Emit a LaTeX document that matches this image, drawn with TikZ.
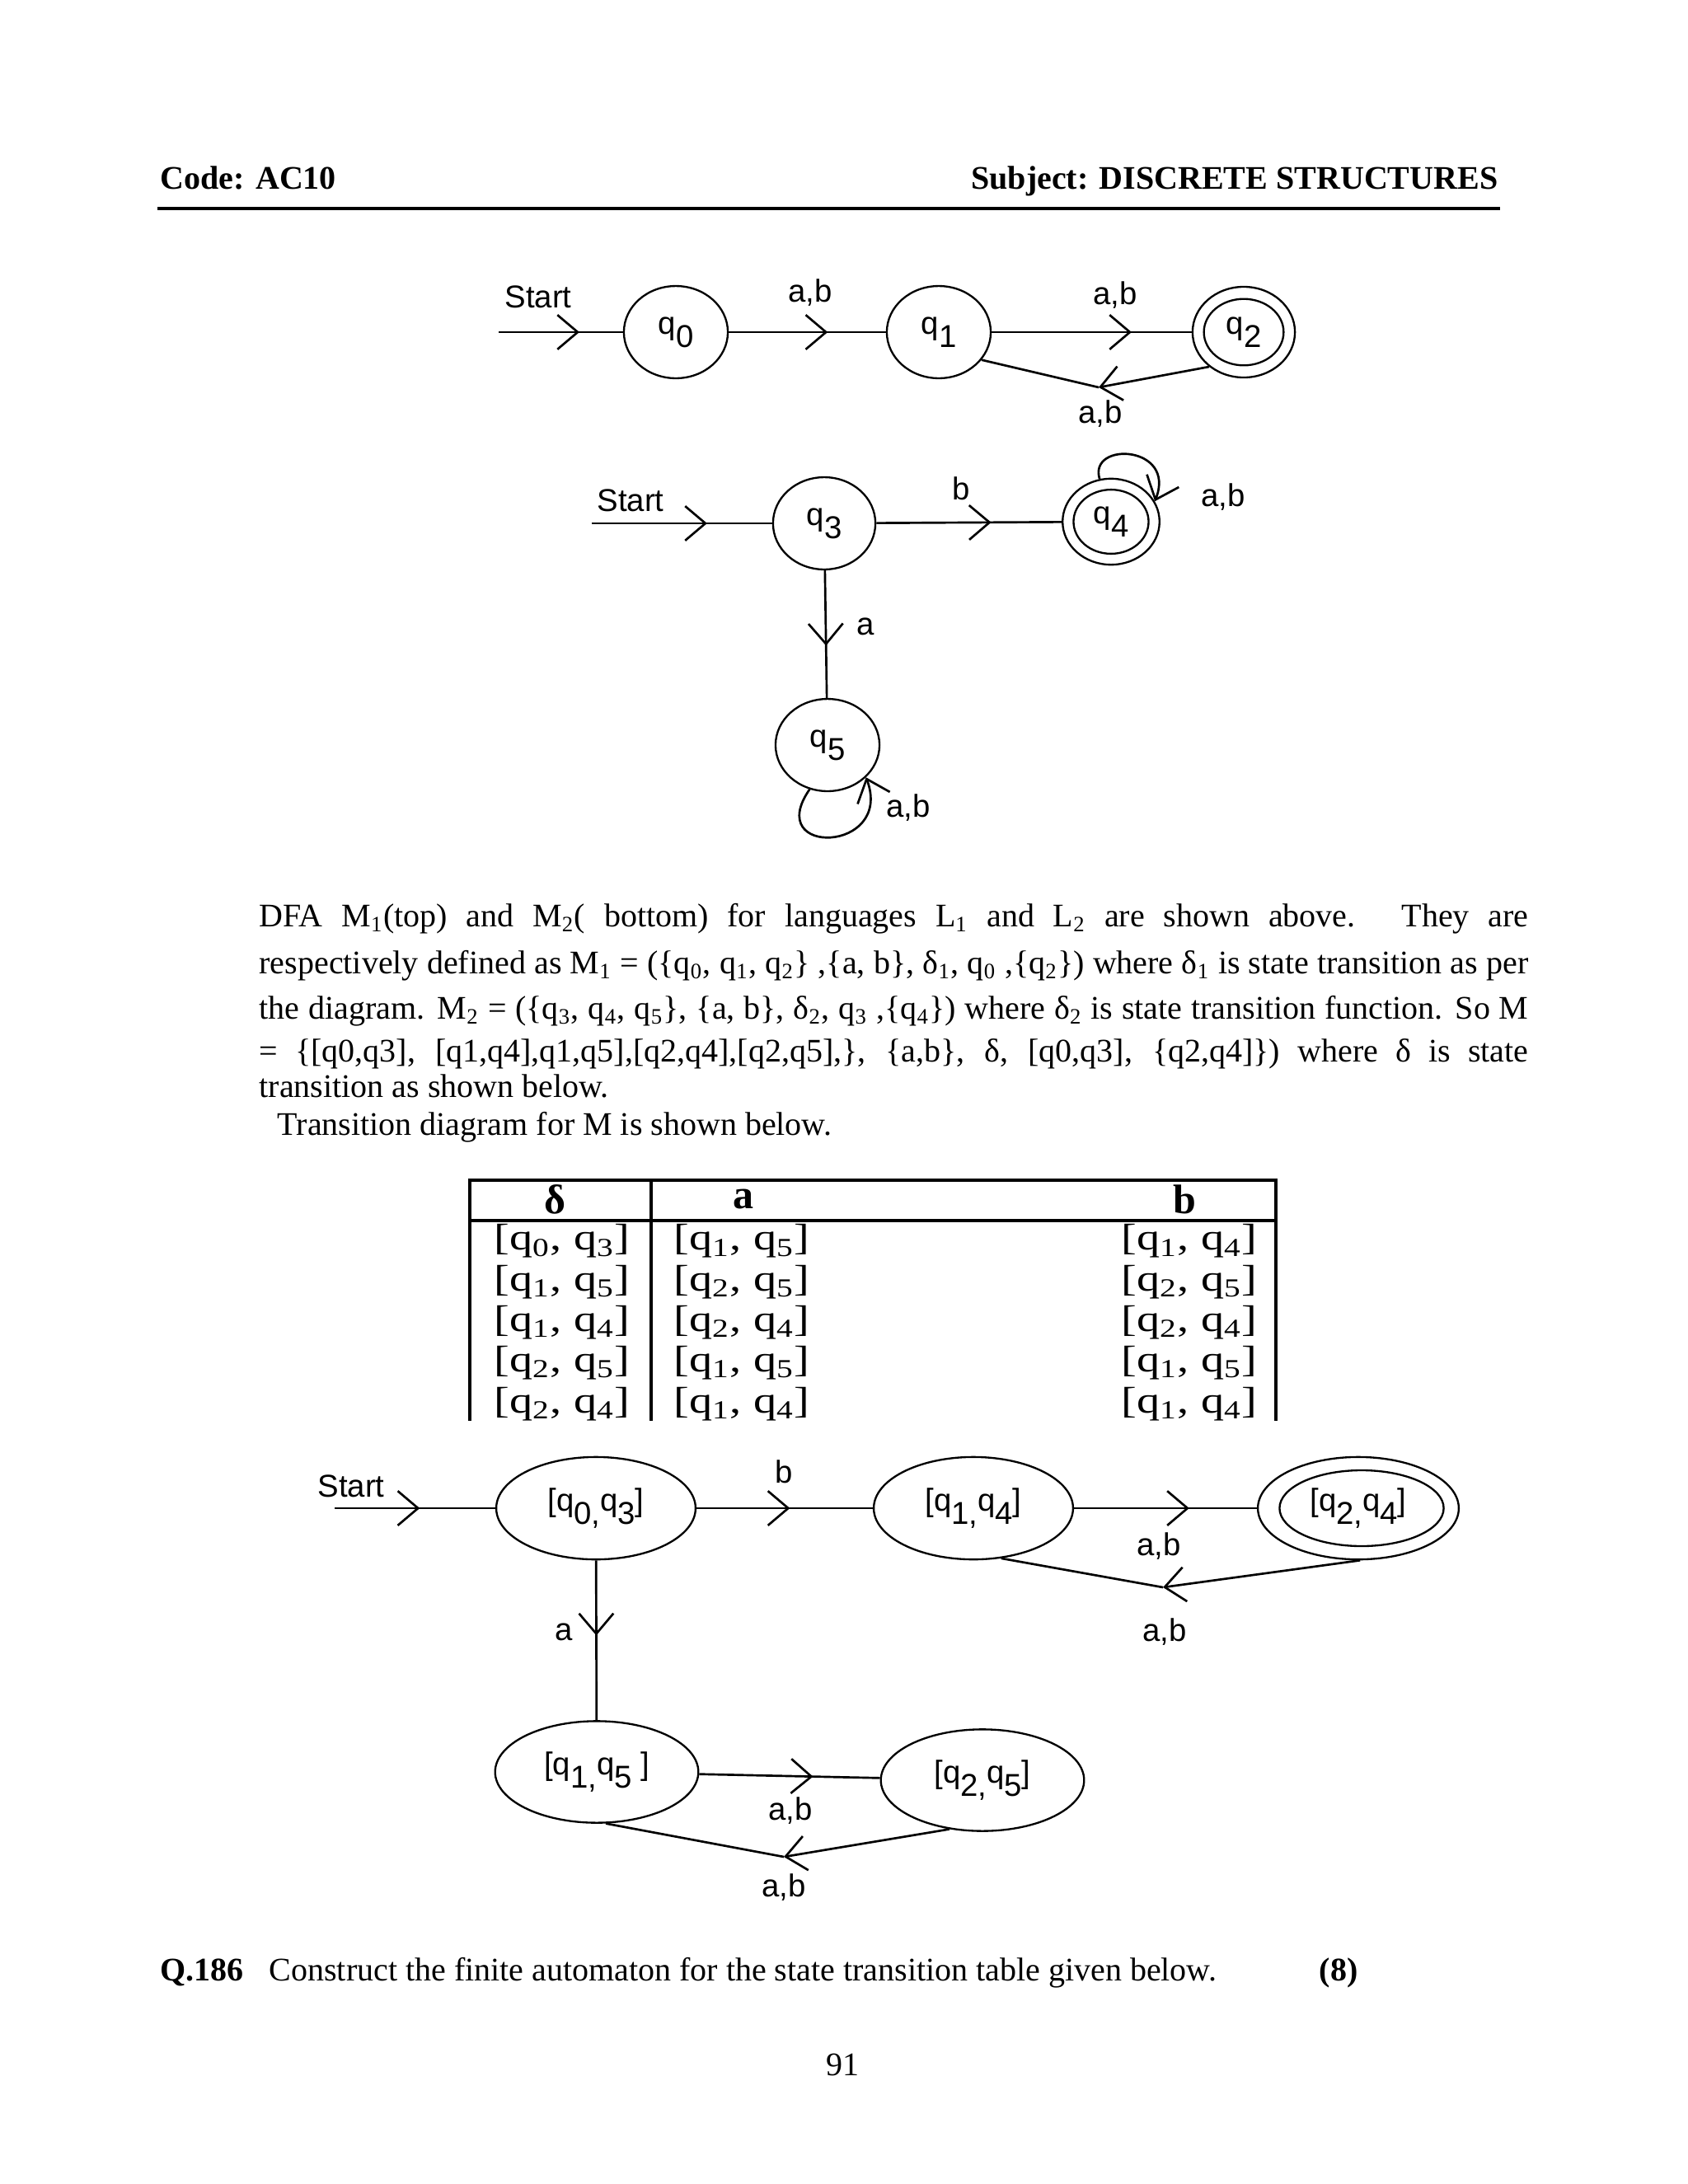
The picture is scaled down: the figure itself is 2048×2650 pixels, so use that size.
\documentclass[tikz,border=0pt]{standalone}
\usepackage{fontspec}
\setmainfont{Liberation Serif}
\newfontfamily\diafont{Liberation Sans}
\usepackage{graphicx}
\usetikzlibrary{arrows.meta,positioning,shapes.geometric,decorations.markings}
\newcommand\dsub[1]{\raisebox{-0.8ex}{#1}}
\newcommand\qpair[2]{\scalebox{1.25}[1]{[q\textsubscript{#1}, q\textsubscript{#2}]}}
\newcommand\bodyline[1]{\makebox[16.235cm][s]{#1}}
\tikzset{
  dstate/.style={draw,ellipse,line width=0.7pt,inner sep=0pt,
                 minimum width=1.33cm,minimum height=1.18cm,
                 font=\diafont\fontsize{11.5}{13}\selectfont},
  bigstate/.style={dstate,minimum width=2.55cm,minimum height=1.31cm},
  dlabel/.style={font=\diafont\fontsize{11.5}{13}\selectfont,inner sep=1pt},
  conn/.style={line width=0.8pt},
  midtip/.style={conn,postaction={decorate},
    decoration={markings,mark=at position #1 with {\arrow{Straight Barb[length=2.6mm,width=4.4mm]}}}},
  endtip/.style={conn,-{Straight Barb[length=2.6mm,width=4.4mm]}},
  bodytext/.style={anchor=base west,inner sep=0pt,font=\fontsize{12}{14}\selectfont},
  boldtext/.style={bodytext,font=\bfseries\fontsize{12}{14}\selectfont},
  cell/.style={inner sep=0pt,font=\fontsize{13.5}{15}\selectfont},
  headcell/.style={inner sep=0pt,font=\bfseries\fontsize{15}{17}\selectfont},
  tabline/.style={line width=1.2pt}
}
\begin{document}
\begin{tikzpicture}[x=0.010542cm,y=-0.010542cm]
\path[use as bounding box,fill=white] (0,0) rectangle (2048,2650);
% page header
\node[boldtext] (code) at (194,229) {Code: AC10};
\node[boldtext,anchor=base east] (subj) at (1818,229) {Subject: DISCRETE STRUCTURES};
\draw[line width=1.3pt] (191,253) -- (1820,253);

% M1
\node[dlabel] (st1) at (653,360) {Start};
\coordinate (in1) at (605,403);
\node[dstate] (q0) at (820,403) {q\dsub{0}};
\node[dstate] (q1) at (1139,403) {q\dsub{1}};
\node[dstate,minimum width=1.31cm,minimum height=1.16cm] (q2) at (1509,403) {q\dsub{2}};
\node[dstate,minimum width=1.02cm,minimum height=0.85cm] (q2in) at (q2) {};
\coordinate (k1) at (1333,470);
\draw[midtip=0.65] (in1) -- (q0);
\draw[midtip=0.63] (q0) -- (q1);
\draw[midtip=0.7] (q1) -- (q2);
\draw[endtip] (q2.-135) -- (k1);
\draw[conn] (k1) -- (q1.-33);
\node[dlabel] (l01) at (983,355) {a,b};
\node[dlabel] (l12) at (1353,358) {a,b};
\node[dlabel] (l21) at (1335,502) {a,b};

% M2
\node[dlabel] (st2) at (765,607) {Start};
\coordinate (in2) at (718,635);
\node[dstate,minimum width=1.31cm] (q3) at (1000,635) {q\dsub{3}};
\node[dstate,minimum width=1.24cm,minimum height=1.1cm] (q4) at (1348,633) {q\dsub{4}};
\node[dstate,minimum width=0.96cm,minimum height=0.82cm] (q4in) at (q4) {};
\node[dstate] (q5) at (1004,904) {q\dsub{5}};
\draw[midtip=0.64] (in2) -- (q3);
\draw[midtip=0.62] (q3) -- (q4);
\draw[midtip=0.59] (q3) -- (q5);
\draw[endtip] (q4.105) .. controls (1320,535) and (1428,540) .. (q4.25);
\draw[endtip] (q5.-112) .. controls (925,1040) and (1085,1035) .. (q5.-40);
\node[dlabel] (l34) at (1166,593) {b};
\node[dlabel] (l44) at (1484,603) {a,b};
\node[dlabel] (l35) at (1050,760) {a};
\node[dlabel] (l55) at (1102,980) {a,b};

% text
\node[bodytext] (p1) at (314,1124) {\bodyline{DFA M\textsubscript{1}(top) and M\textsubscript{2}( bottom) for languages L\textsubscript{1} and L\textsubscript{2} are shown above.\hspace{0.1em} They are}};
\node[bodytext] (p2) at (314,1181) {\bodyline{respectively defined as M\textsubscript{1} = (\{q\textsubscript{0}, q\textsubscript{1}, q\textsubscript{2}\} ,\{a, b\}, δ\textsubscript{1}, q\textsubscript{0} ,\{q\textsubscript{2}\}) where δ\textsubscript{1} is state transition as per}};
\node[bodytext] (p3) at (314,1236) {\bodyline{the diagram. M\textsubscript{2} = (\{q\textsubscript{3}, q\textsubscript{4}, q\textsubscript{5}\}, \{a, b\}, δ\textsubscript{2}, q\textsubscript{3} ,\{q\textsubscript{4}\}) where δ\textsubscript{2} is state transition function. So M}};
\node[bodytext] (p4) at (314,1288) {\bodyline{= \{[q0,q3], [q1,q4],q1,q5],[q2,q4],[q2,q5],\}, \{a,b\}, δ, [q0,q3], \{q2,q4]\}) where δ is state}};
\node[bodytext] (p5) at (314,1331) {transition as shown below.};
\node[bodytext] (p6) at (336,1377) {Transition diagram for M is shown below.};

% table
\draw[tabline] (570,1724) -- (570,1432) -- (1548,1432) -- (1548,1724);
\draw[tabline] (570,1481) -- (1548,1481);
\draw[tabline] (790,1432) -- (790,1724);
\node[headcell] (hd) at (673,1455) {δ};
\node[headcell] (ha) at (902,1455) {a};
\node[headcell] (hb) at (1437,1455) {b};
\foreach \i/\ca/\cb/\cc in {0/03/15/14,1/15/25/25,2/14/24/24,3/25/15/15,4/24/14/14} {
  \node[cell] (d\i) at (682,1506+49.3*\i) {\expandafter\qpair\ca};
  \node[cell] (a\i) at (900,1506+49.3*\i) {\expandafter\qpair\cb};
  \node[cell] (b\i) at (1443,1506+49.3*\i) {\expandafter\qpair\cc};
}

% M
\node[dlabel] (st3) at (426,1803) {Start};
\coordinate (in3) at (406,1830);
\node[bigstate] (m03) at (723,1830) {[q\dsub{0,}q\dsub{3}]};
\node[bigstate] (m14) at (1181,1830) {[q\dsub{1,}q\dsub{4}]};
\node[bigstate,minimum width=2.57cm] (m24) at (1648,1830) {[q\dsub{2,}q\dsub{4}]};
\node[bigstate,minimum width=2.1cm,minimum height=0.97cm] (m24in) at (1652,1830) {};
\node[bigstate,minimum width=2.6cm,minimum height=1.3cm] (m15) at (724,2150) {[q\dsub{1,}q\dsub{5} ]};
\node[bigstate,minimum width=2.6cm,minimum height=1.3cm] (m25) at (1192,2160) {[q\dsub{2,}q\dsub{5}]};
\coordinate (k3) at (1411,1926);
\coordinate (k4) at (951,2253);
\draw[midtip=0.53] (in3) -- (m03);
\draw[midtip=0.53] (m03) -- (m14);
\draw[midtip=0.63] (m14) -- (m24);
\draw[endtip] (m24.-88) -- (k3);
\draw[conn] (k3) -- (m14.-61);
\draw[midtip=0.47] (m03) -- (m15);
\draw[midtip=0.63] (m15) -- (m25);
\draw[endtip] (m25.236) -- (k4);
\draw[conn] (k4) -- (m15.-80);
\node[dlabel] (lb) at (951,1786) {b};
\node[dlabel] (lm1) at (1406,1876) {a,b};
\node[dlabel] (lm2) at (1413,1980) {a,b};
\node[dlabel] (la) at (684,1980) {a};
\node[dlabel] (lm3) at (959,2197) {a,b};
\node[dlabel] (lm4) at (951,2290) {a,b};

% question
\node[boldtext] (qn) at (194,2403) {Q.186};
\node[bodytext] (qt) at (326,2403) {Construct the finite automaton for the state transition table given below.};
\node[boldtext] (qm) at (1600,2403) {(8)};
\node[bodytext,anchor=base] (pg) at (1022,2518) {91};
\end{tikzpicture}
\end{document}
